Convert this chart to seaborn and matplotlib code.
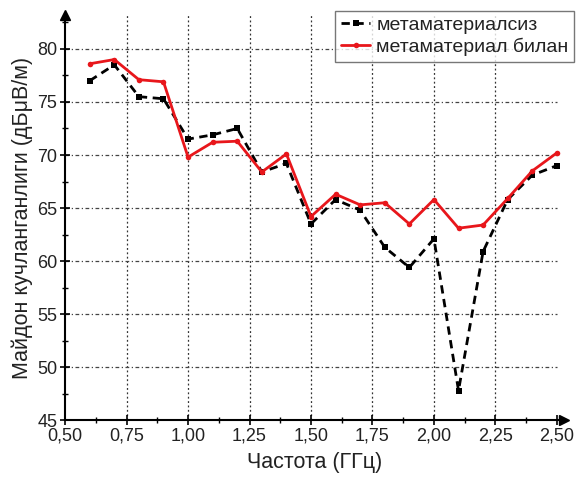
import numpy as np
import pandas as pd
import matplotlib
matplotlib.use("Agg")
import matplotlib.pyplot as plt
import seaborn as sns
from matplotlib.ticker import MultipleLocator, FuncFormatter

# frequency points (GHz)
freq = [0.6, 0.7, 0.8, 0.9, 1.0, 1.1, 1.2, 1.3, 1.4, 1.5,
        1.6, 1.7, 1.8, 1.9, 2.0, 2.1, 2.2, 2.3, 2.4, 2.5]
# field strength without metamaterial (dBuV/m)
without_meta = [77.0, 78.5, 75.5, 75.3, 71.5, 71.9, 72.5, 68.4, 69.2, 63.5,
                65.8, 64.8, 61.3, 59.4, 62.1, 47.8, 60.9, 65.8, 68.1, 69.0]
# field strength with metamaterial (dBuV/m)
with_meta = [78.6, 79.0, 77.1, 76.9, 69.8, 71.2, 71.3, 68.4, 70.1, 64.2,
             66.3, 65.3, 65.5, 63.5, 65.8, 63.1, 63.4, 65.9, 68.5, 70.2]

label_without = "метаматериалсиз"
label_with = "метаматериал билан"
x_ticks = [0.50, 0.75, 1.00, 1.25, 1.50, 1.75, 2.00, 2.25, 2.50]
y_ticks = [45, 50, 55, 60, 65, 70, 75, 80]


def make_plot():
    sns.set_style("white")
    plt.rcParams['font.family'] = ['Liberation Sans', 'DejaVu Sans']

    fig = plt.figure(figsize=(5.79, 4.83), dpi=100)
    ax = fig.add_axes([0.1125, 0.130, 0.862, 0.839])

    sns.lineplot(x=freq, y=without_meta, ax=ax, color='black', lw=2,
                 linestyle=(0, (3, 2)), marker='s', markersize=5,
                 markeredgewidth=0, label=label_without)
    sns.lineplot(x=freq, y=with_meta, ax=ax, color='#e8161b', lw=2,
                 marker='o', markersize=4, markeredgewidth=0,
                 label=label_with)

    ax.set_xlim(0.5, 2.53)
    ax.set_ylim(45, 83.2)
    ax.xaxis.set_major_locator(MultipleLocator(0.25))
    ax.xaxis.set_minor_locator(MultipleLocator(0.125))
    ax.set_yticks(y_ticks)
    ax.yaxis.set_minor_locator(MultipleLocator(2.5))
    ax.set_xticks(x_ticks)
    ax.xaxis.set_major_formatter(FuncFormatter(lambda v, p: f"{v:.2f}".replace('.', ',')))

    # grid lines
    for xv in x_ticks[1:-1]:
        ax.axvline(xv, color='#333333', lw=0.9, ls=(0, (1.5, 2)), zorder=0)
    for yv in y_ticks[1:]:
        ax.axhline(yv, xmax=(2.5 - 0.5) / 2.03, color='#444444', lw=0.9,
                   ls=(0, (3, 2, 1, 2)), zorder=0)

    for s in ['top', 'right']:
        ax.spines[s].set_visible(False)
    for s in ['left', 'bottom']:
        ax.spines[s].set_color('black')
        ax.spines[s].set_linewidth(1.5)
    ax.plot(1, 0, ">k", markersize=7, transform=ax.transAxes, clip_on=False)
    ax.plot(0, 1, "^k", markersize=7, transform=ax.transAxes, clip_on=False)

    ax.tick_params(axis='both', which='major', direction='inout', length=7,
                   width=1.2, labelsize=13, color='black', labelcolor='#222222',
                   left=True, bottom=True, pad=2)
    ax.tick_params(axis='both', which='minor', direction='inout', length=4,
                   width=1.0, color='black', left=True, bottom=True)

    ax.set_xlabel("Частота (ГГц)", fontsize=15.5, color='#222222', labelpad=5)
    ax.set_ylabel("Майдон кучланганлиги (дБμВ/м)", fontsize=15.5,
                  color='#222222', labelpad=3)

    leg = ax.legend(loc='upper right', bbox_to_anchor=(0.992, 0.978),
                    bbox_transform=fig.transFigure, fontsize=14,
                    frameon=True, fancybox=False, edgecolor='#555555',
                    handlelength=1.5, borderpad=0.3, labelspacing=0.2,
                    handletextpad=0.3, borderaxespad=0)
    leg.get_frame().set_linewidth(1.0)
    for t in leg.get_texts():
        t.set_color('#222222')

    fig.savefig("out.png", dpi=100)


def main():
    make_plot()


if __name__ == "__main__":
    main()
